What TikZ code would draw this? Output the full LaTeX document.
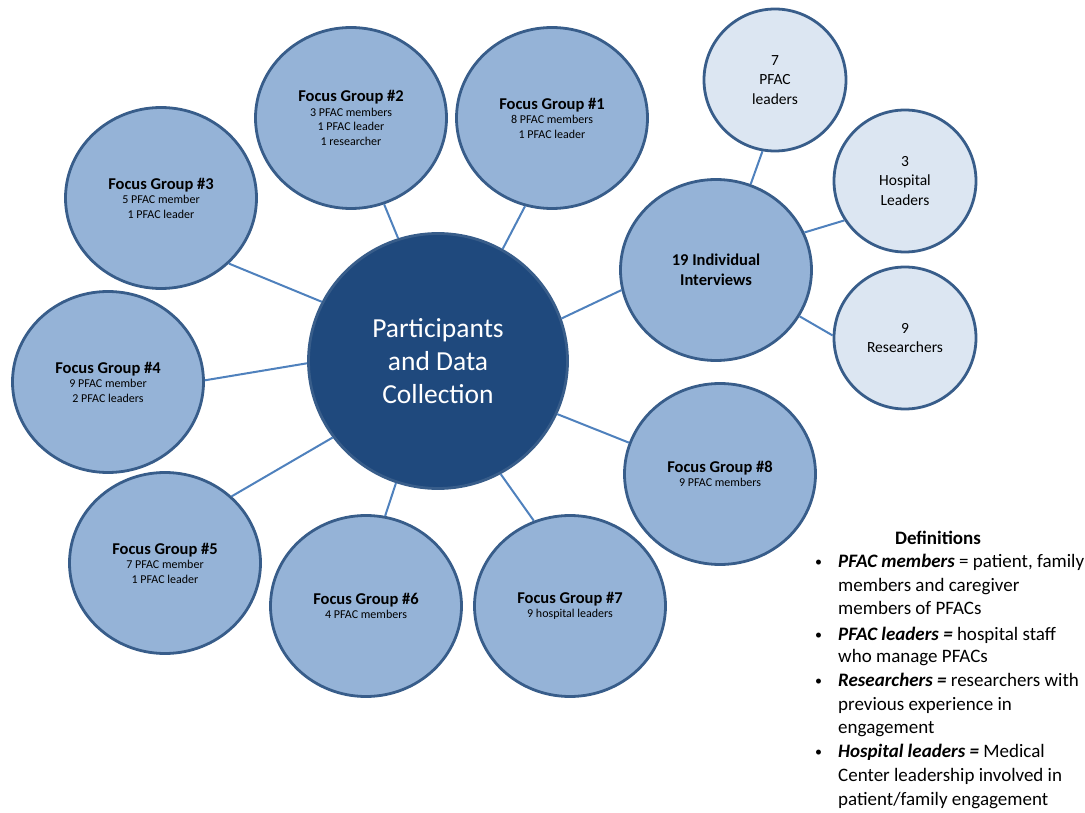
\documentclass[tikz,border=0pt]{standalone}
\usepackage{fontspec}
\setmainfont{Carlito}
\usetikzlibrary{shapes.geometric}
\definecolor{fgfill}{HTML}{95B3D7}
\definecolor{bord}{HTML}{385D8A}
\definecolor{ctrfill}{HTML}{1F497D}
\definecolor{smfill}{HTML}{DCE6F2}
\definecolor{conn}{HTML}{4F81BD}
\newcommand\fgtitle[1]{{\fontsize{16.5}{15}\selectfont\bfseries #1}}
\newcommand\defterm[1]{\textbf{\textit{#1}}}
\begin{document}
\begin{tikzpicture}[x=1pt,y=-1pt,
 fg/.style={ellipse, draw=bord, fill=fgfill, line width=2.8pt, minimum width=191pt, minimum height=181pt, inner sep=0pt, align=center, text=black, font=\fontsize{12}{14.5}\selectfont},
 sm/.style={ellipse, draw=bord, fill=smfill, line width=2.8pt, minimum width=142pt, minimum height=142pt, inner sep=0pt, align=center, font=\fontsize{15.5}{19.5}\selectfont},
 ctr/.style={ellipse, draw=bord, fill=ctrfill, line width=2.8pt, minimum width=259pt, minimum height=255pt, inner sep=0pt, text=white, align=center, font=\fontsize{27.5}{33}\selectfont},
 link/.style={draw=conn, line width=2pt},
 deftext/.style={anchor=base west, inner sep=0pt, font=\fontsize{19}{23.5}\selectfont},
 bul/.style={anchor=base west, inner sep=0pt, font=\fontsize{14}{23.5}\selectfont},
]
\useasboundingbox (0,0) rectangle (1085,813);

\node[ctr] (ctr) at (438,361) {Participants\\and Data\\Collection};

\node[fg] (fg1) at (552,118) {\fgtitle{Focus Group \#1}\\8 PFAC members\\1 PFAC leader};
\node[fg] (fg2) at (351,118) {\fgtitle{Focus Group \#2}\\3 PFAC members\\1 PFAC leader\\1 researcher};
\node[fg] (fg3) at (161,198) {\fgtitle{Focus Group \#3}\\5 PFAC member\\1 PFAC leader};
\node[fg] (fg4) at (108,382) {\fgtitle{Focus Group \#4}\\9 PFAC member\\2 PFAC leaders};
\node[fg] (fg5) at (165,563) {\fgtitle{Focus Group \#5}\\7 PFAC member\\1 PFAC leader};
\node[fg] (fg6) at (366,606) {\fgtitle{Focus Group \#6}\\4 PFAC members};
\node[fg] (fg7) at (570,606) {\fgtitle{Focus Group \#7}\\9 hospital leaders};
\node[fg] (fg8) at (720,474) {\fgtitle{Focus Group \#8}\\9 PFAC members};
\node[fg, font=\fontsize{16.5}{20}\selectfont\bfseries] (int) at (716,270) {19 Individual\\Interviews};

\node[sm] (pl) at (775,80) {7\\PFAC\\leaders};
\node[sm] (hl) at (905,181) {3\\Hospital\\Leaders};
\node[sm] (rs) at (905,338) {9\\Researchers};

\draw[link] (ctr.108) -- (fg2.291);
\draw[link] (ctr.60) -- (fg1.253);
\draw[link] (ctr.153) -- (fg3.316);
\draw[link] (ctr.181) -- (fg4.1);
\draw[link] (ctr.216) -- (fg5.45);
\draw[link] (ctr.251) -- (fg6.78);
\draw[link] (ctr.299) -- (fg7.113);
\draw[link] (ctr.336) -- (fg8.161);
\draw[link] (ctr.19) -- (int.192);
\draw[link] (int.68) -- (pl.260);
\draw[link] (int.23) -- (hl.213);
\draw[link] (int.331) -- (rs.178);

\node[anchor=base, inner sep=0pt, font=\fontsize{19}{23.5}\selectfont\bfseries] (deft) at (938,544) {Definitions};
\node[bul] (b1) at (815,566) {\textbullet};
\node[deftext] (d1) at (838,567) {\defterm{PFAC members} = patient, family};
\node[deftext] (d2) at (838,591) {members and caregiver};
\node[deftext] (d3) at (838,614) {members of PFACs};
\node[bul] (b2) at (815,639) {\textbullet};
\node[deftext] (d4) at (838,640) {\defterm{PFAC leaders =} hospital staff};
\node[deftext] (d5) at (838,662) {who manage PFACs};
\node[bul] (b3) at (815,685) {\textbullet};
\node[deftext] (d6) at (838,686) {\defterm{Researchers =} researchers with};
\node[deftext] (d7) at (838,710) {previous experience in};
\node[deftext] (d8) at (838,733) {engagement};
\node[bul] (b4) at (815,756) {\textbullet};
\node[deftext] (d9) at (838,757) {\defterm{Hospital leaders =} Medical};
\node[deftext] (d10) at (838,781) {Center leadership involved in};
\node[deftext] (d11) at (838,805) {patient/family engagement};
\end{tikzpicture}
\end{document}
